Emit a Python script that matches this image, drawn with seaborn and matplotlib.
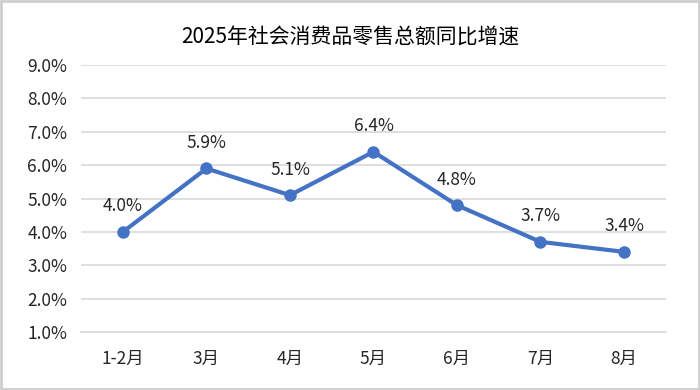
import pandas as pd
import seaborn as sns
import matplotlib.pyplot as plt
from matplotlib.patches import Rectangle

# data
months = ['1-2月', '3月', '4月', '5月', '6月', '7月', '8月']
growth = [4.0, 5.9, 5.1, 6.4, 4.8, 3.7, 3.4]
y_ticks = [1, 2, 3, 4, 5, 6, 7, 8, 9]

df = pd.DataFrame({'month': months, 'growth': growth})

sns.set_style('white')
plt.rcParams['font.family'] = ['Noto Sans CJK SC', 'DejaVu Sans']

fig = plt.figure(figsize=(7, 3.9), dpi=100)
ax = fig.add_axes([0.116, 0.149, 0.835, 0.684])

sns.lineplot(data=df, x='month', y='growth', ax=ax, color='#4472C4',
             linewidth=3, marker='o', markersize=9, markeredgewidth=0,
             sort=False)

for i, v in enumerate(growth):
    ax.annotate(f'{v:.1f}%', (i, v), xytext=(0, 12), textcoords='offset points',
                ha='center', va='bottom', fontsize=12.5, color='#262626')

ax.set_xlim(-0.5, len(months) - 0.5)
ax.set_ylim(1, 9)
ax.set_yticks(y_ticks)
ax.set_yticklabels([f'{t:.1f}%' for t in y_ticks])
ax.yaxis.grid(True, color='#D9D9D9', linewidth=1.2)
ax.set_axisbelow(True)
for s in ['top', 'right', 'left']:
    ax.spines[s].set_visible(False)
ax.spines['bottom'].set_color('#D9D9D9')
ax.spines['bottom'].set_linewidth(1.2)
ax.tick_params(axis='both', length=0, labelsize=12.5, labelcolor='#262626')
ax.tick_params(axis='x', pad=13)
ax.tick_params(axis='y', pad=10)
ax.set_xlabel('')
ax.set_ylabel('')

fig.text(0.5, 0.905, '2025年社会消费品零售总额同比增速', ha='center', va='center',
         fontsize=15, color='#000000')

fig.patches.append(Rectangle((0.002, 0.003), 0.996, 0.994, transform=fig.transFigure,
                             fill=False, edgecolor='#CFCFCF', linewidth=2))

fig.savefig('out.png', dpi=100)
